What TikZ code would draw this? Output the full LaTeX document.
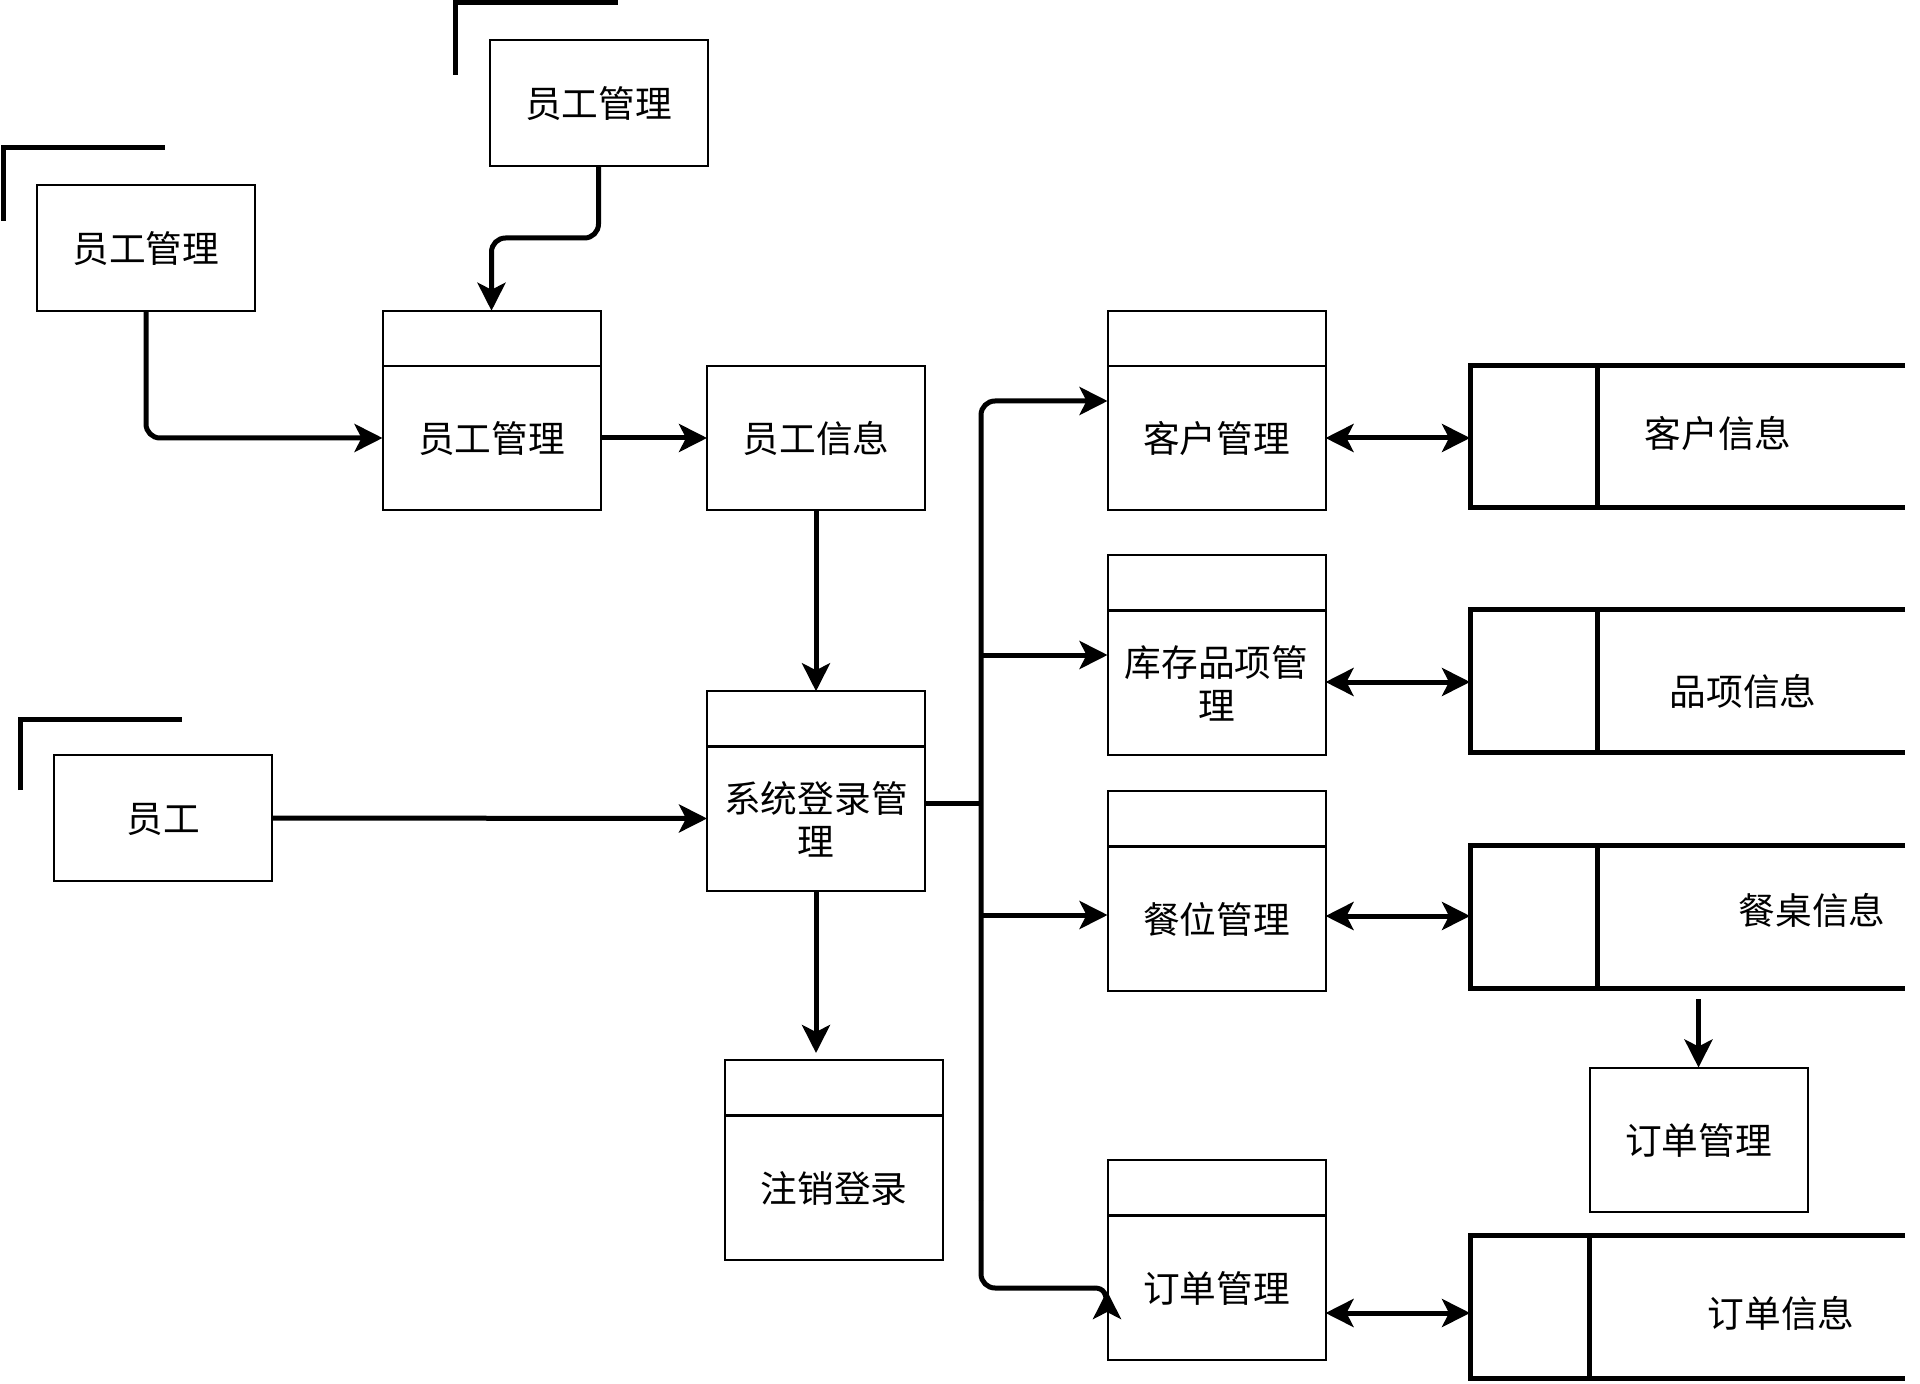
\documentclass[tikz,border=0pt]{standalone}
\usepackage{fontspec}
\setmainfont{Noto Sans CJK SC}
\usetikzlibrary{arrows.meta}
\tikzset{
  procbox/.style={draw,line width=1pt,minimum width=109pt,inner sep=2pt,outer sep=0pt,align=center,text width=100pt,font=\fontsize{18.35pt}{21.5pt}\selectfont,execute at begin node={\rule{0pt}{16.5pt}}},
  tallbox/.style={procbox,minimum height=72.25pt},
  headbox/.style={procbox,minimum height=27.75pt},
  extbox/.style={procbox,minimum height=63.25pt},
  storebox/.style={minimum width=217.5pt,minimum height=71.25pt,inner sep=0pt,outer sep=0pt},
  storetext/.style={font=\fontsize{18.35pt}{21.5pt}\selectfont,inner sep=0pt},
  heavy/.style={line width=2.5pt},
  flow/.style={heavy,rounded corners=7pt,-{Stealth[length=14pt,width=14pt,inset=3.5pt]}},
  dualflow/.style={heavy,{Stealth[length=14pt,width=14pt,inset=3.5pt]}-{Stealth[length=14pt,width=14pt,inset=3.5pt]}},
}
\begin{document}
\begin{tikzpicture}[x=0.5pt,y=-0.5pt,line join=miter]
  \useasboundingbox (0,0) rectangle (1920,1384);

  % External entities
  \node[extbox] (emptop) at (598.5,103) {员工管理};
  \node[extbox] (empleft) at (146,248) {员工管理};
  \node[extbox] (staff) at (163,818) {员工};
  \draw[heavy] (455,75) -- (455,2.5) -- (618,2.5);
  \draw[heavy] (3,221) -- (3,148) -- (165,148);
  \draw[heavy] (20,790) -- (20,719) -- (182,719);

  % Processes
  \node[tallbox] (mgmt) at (491.5,438) {员工管理};
  \node[headbox] (mgmthead) at (491.5,338.5) {};
  \node[tallbox] (info) at (816,438) {员工信息};
  \node[tallbox] (login) at (816,818.5) {系统登录管\\理};
  \node[headbox] (loginhead) at (816,719) {};
  \node[tallbox] (logout) at (834,1187.5) {注销登录};
  \node[headbox] (logouthead) at (834,1088) {};
  \node[tallbox] (cust) at (1216.5,438) {客户管理};
  \node[headbox] (custhead) at (1216.5,338.5) {};
  \node[tallbox] (stock) at (1216.5,682.5) {库存品项管\\理};
  \node[headbox] (stockhead) at (1216.5,583) {};
  \node[tallbox] (seat) at (1216.5,918.5) {餐位管理};
  \node[headbox] (seathead) at (1216.5,819) {};
  \node[tallbox] (order) at (1216.5,1287.5) {订单管理};
  \node[headbox] (orderhead) at (1216.5,1188) {};
  \node[extbox,minimum height=72pt] (orderbox) at (1698.5,1139.5) {订单管理};

  % Data stores
  \foreach \name/\ypos/\xdiv in {custstore/436.5/1597,stockstore/681/1597,seatstore/917/1597,orderstore/1307/1589} {
    \node[storebox] (\name) at (1687.5,\ypos) {};
    \draw[heavy] (\name.north east) -- (\name.north west) -- (\name.south west) -- (\name.south east);
    \draw[heavy] (\name.north west -| \xdiv,0) -- (\name.south west -| \xdiv,0);
  }
  \node[storetext] (custtext) at (1718,433) {客户信息};
  \node[storetext] (stocktext) at (1743,691) {品项信息};
  \node[storetext] (seattext) at (1812,910) {餐桌信息};
  \node[storetext] (ordertext) at (1781,1313) {订单信息};

  % Left side flows
  \coordinate (bend) at (146,437);
  \draw[flow] (empleft.south) -- (bend |- mgmt.west) -- (mgmt.west);
  \coordinate (stepa) at (598.5,238);
  \coordinate (stepb) at (491.5,238);
  \draw[flow] (emptop.south) -- (stepa) -- (stepb) -- (mgmthead.north);
  \draw[flow] (mgmt.east) -- (info.west);
  \draw[flow] (info.south) -- (loginhead.north);
  \draw[flow] (staff.east) -- (login.west);
  \coordinate (logoutend) at (816,1053);
  \draw[flow] (login.south) -- (logoutend);

  % Trunk and its branches
  \coordinate (trunktop) at (981,401);
  \coordinate (trunkstub) at (981,803);
  \coordinate (trunkmid) at (981,1200);
  \coordinate (trunkbot) at (981,1288);
  \coordinate (orderin) at (1094,1288);
  \draw[heavy] (login.east |- trunkstub) -- (trunkstub);
  \draw[flow] (trunkmid) -- (trunktop) -- (cust.west |- trunktop);
  \coordinate (stockin) at (981,655);
  \draw[flow] (stockin) -- (stock.west |- stockin);
  \coordinate (seatin) at (981,915);
  \draw[flow] (seatin) -- (seat.west |- seatin);
  \draw[heavy,rounded corners=7pt] (trunkmid) -- (trunkbot) -- (orderin);
  \draw[flow] (orderin) .. controls (1104,1288) and (1107,1293) .. (1107,1291);

  % Store links
  \draw[dualflow] (cust.east) -- (custstore.west |- cust.east);
  \coordinate (stocklink) at (1400,682);
  \draw[dualflow] (stock.east |- stocklink) -- (stockstore.west |- stocklink);
  \coordinate (seatlink) at (1400,916);
  \draw[dualflow] (seat.east |- seatlink) -- (seatstore.west |- seatlink);
  \coordinate (orderlink) at (1400,1313);
  \draw[dualflow] (order.east |- orderlink) -- (orderstore.west |- orderlink);
  \coordinate (seatdrop) at (1698.5,999);
  \draw[flow] (seatdrop) -- (orderbox.north);
\end{tikzpicture}
\end{document}
